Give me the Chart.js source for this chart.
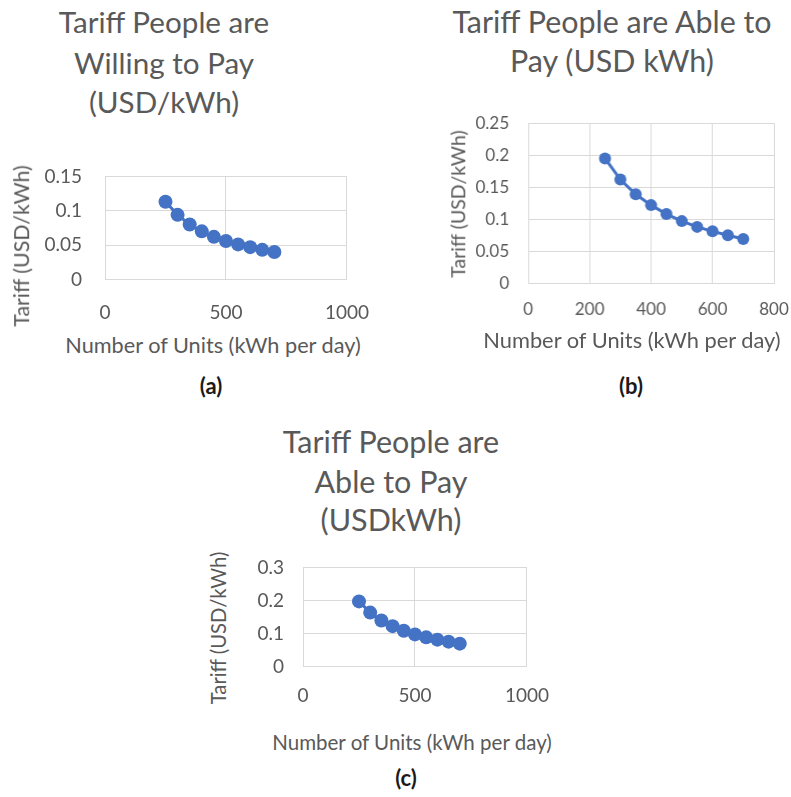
<!DOCTYPE html>
<html>
<head>
<meta charset="utf-8">
<script src="https://cdn.jsdelivr.net/npm/chart.js@4.4.1/dist/chart.umd.min.js"></script>
<style>
  html, body { margin: 0; padding: 0; background: #ffffff; }
  body { width: 791px; height: 797px; position: relative; overflow: hidden; font-family: Lato, "Open Sans", sans-serif; }
  .box { position: absolute; }
  .txt { position: absolute; white-space: nowrap; color: #595959; font-family: Lato, sans-serif; }
  .lab { position: absolute; transform: translate(-50%, -50%); color: #1a1a1a; font-weight: bold; font-size: 22px; font-family: Lato, sans-serif; }
</style>
</head>
<body>
<div class="box" id="ba" style="left:20px; top:150px; width:360px; height:180px;"><canvas id="ca"></canvas></div>
<div class="box" id="bb" style="left:450px; top:100px; width:341px; height:220px;"><canvas id="cb"></canvas></div>
<div class="box" id="bc" style="left:230px; top:545px; width:330px; height:170px;"><canvas id="cc"></canvas></div>

<div class="lab" style="left:211px; top:385px;">(a)</div>
<div class="lab" style="left:631px; top:385px;">(b)</div>
<div class="lab" style="left:406px; top:777px;">(c)</div>

<script>
// Data
const units = [250, 300, 350, 400, 450, 500, 550, 600, 650, 700];
const tariffWilling = [0.113, 0.094, 0.080, 0.070, 0.062, 0.056, 0.051, 0.047, 0.043, 0.040];
const tariffAbleB = [0.195, 0.162, 0.139, 0.122, 0.108, 0.097, 0.088, 0.081, 0.075, 0.069];
const tariffAbleC = [0.197, 0.163, 0.139, 0.122, 0.108, 0.097, 0.088, 0.081, 0.075, 0.069];

const xTicksA = [0, 500, 1000];
const yTicksA = [0, 0.05, 0.1, 0.15];
const xTicksB = [0, 200, 400, 600, 800];
const yTicksB = [0, 0.05, 0.1, 0.15, 0.2, 0.25];
const xTicksC = [0, 500, 1000];
const yTicksC = [0, 0.1, 0.2, 0.3];

const titleA = ['Tariff People are', 'Willing to Pay', '(USD/kWh)'];
const titleB = ['Tariff People are Able to', 'Pay (USD kWh)'];
const titleC = ['Tariff People are', 'Able to Pay', '(USDkWh)'];
const xTitle = 'Number of Units (kWh per day)';
const yTitle = 'Tariff (USD/kWh)';

const BLUE = '#4472c4';
const GRID = '#d9d9d9';
const TICK = '#595959';

// ---------- text helpers ----------
const mctx = document.createElement('canvas').getContext('2d');
function sizeFor(text, width, weight) {
  mctx.font = (weight || 'normal') + ' 100px Lato';
  return 100 * width / mctx.measureText(text).width;
}
function addDiv(text, css) {
  const d = document.createElement('div');
  d.className = 'txt';
  d.textContent = text;
  Object.assign(d.style, css);
  document.body.appendChild(d);
  return d;
}
// multi-line title: centre x, baselines of each line, width of first line
function title(lines, cx, baselines, width0) {
  const f = sizeFor(lines[0], width0);
  lines.forEach((ln, i) => {
    addDiv(ln, { left: cx + 'px', top: (baselines[i] - 0.987 * f) + 'px', fontSize: f + 'px',
                 lineHeight: (1.2 * f) + 'px', transform: 'translateX(-50%)' });
  });
}
function centred(text, cx, cy, width, rotate) {
  const f = sizeFor(text, width);
  addDiv(text, { left: cx + 'px', top: cy + 'px', fontSize: f + 'px', lineHeight: '1.2',
                 transform: 'translate(-50%, -50%)' + (rotate ? ' rotate(-90deg)' : '') });
}

title(titleA, 164, [33, 74, 113], 211);
title(titleB, 612, [33, 72], 321);
title(titleC, 391, [453, 493, 531], 217);

centred(xTitle, 213, 345, 297, false);
centred(yTitle, 22, 246, 162, true);
centred(xTitle, 632, 340, 299, false);
centred(yTitle, 458, 204, 148, true);
centred(xTitle, 412, 742, 281, false);
centred(yTitle, 218, 628, 153, true);

// ---------- charts ----------
function toPoints(xs, ys) { return xs.map((x, i) => ({ x: x, y: ys[i] })); }
const fmt = (v) => String(Math.round(v * 1000) / 1000);

function makeChart(id, ys, cfg) {
  return new Chart(document.getElementById(id), {
    type: 'scatter',
    data: {
      datasets: [{
        data: toPoints(units, ys),
        showLine: true,
        borderColor: BLUE,
        backgroundColor: BLUE,
        borderWidth: 3,
        pointRadius: cfg.r,
        pointHoverRadius: cfg.r,
        pointBorderWidth: 0
      }]
    },
    options: {
      responsive: true,
      maintainAspectRatio: false,
      animation: false,
      events: [],
      layout: { padding: { left: 0, right: 30, top: 26, bottom: 0 } },
      plugins: { legend: { display: false }, tooltip: { enabled: false }, title: { display: false } },
      scales: {
        x: {
          type: 'linear',
          min: cfg.xTicks[0], max: cfg.xTicks[cfg.xTicks.length - 1],
          afterBuildTicks: (s) => { s.ticks = cfg.xTicks.map(v => ({ value: v })); },
          afterFit: (s) => { s.height = 50; },
          grid: { color: GRID, lineWidth: 1, drawTicks: false },
          border: { color: GRID },
          ticks: { color: TICK, font: { family: 'Lato', size: cfg.fs }, padding: cfg.xpad, maxRotation: 0, autoSkip: false, callback: fmt }
        },
        y: {
          type: 'linear',
          min: cfg.yTicks[0], max: cfg.yTicks[cfg.yTicks.length - 1],
          afterBuildTicks: (s) => { s.ticks = cfg.yTicks.map(v => ({ value: v })); },
          afterFit: (s) => { s.width = 70; },
          grid: { color: GRID, lineWidth: 1, drawTicks: false },
          border: { color: GRID },
          ticks: { color: TICK, font: { family: 'Lato', size: cfg.fs }, padding: cfg.ypad, autoSkip: false, callback: fmt }
        }
      }
    }
  });
}

// move/resize the container so the plot area sits where it does in the reference
function place(chart, boxId, t) {
  const box = document.getElementById(boxId);
  for (let k = 0; k < 3; k++) {
    const a = chart.chartArea;
    const L = parseFloat(box.style.left), T = parseFloat(box.style.top);
    const W = parseFloat(box.style.width), H = parseFloat(box.style.height);
    const dx = t.left - (L + a.left), dy = t.top - (T + a.top);
    const nW = W + (t.right - (L + a.right)) - dx;
    const nH = H + (t.bottom - (T + a.bottom)) - dy;
    box.style.left = (L + dx) + 'px'; box.style.top = (T + dy) + 'px';
    box.style.width = nW + 'px'; box.style.height = nH + 'px';
    chart.resize();
  }
}

const chA = makeChart('ca', tariffWilling, { r: 7, xTicks: xTicksA, yTicks: yTicksA, fs: 19, xpad: 22, ypad: 23 });
const chB = makeChart('cb', tariffAbleB, { r: 6, xTicks: xTicksB, yTicks: yTicksB, fs: 17, xpad: 16, ypad: 19 });
const chC = makeChart('cc', tariffAbleC, { r: 7, xTicks: xTicksC, yTicks: yTicksC, fs: 19, xpad: 18, ypad: 19 });

place(chA, 'ba', { left: 105, right: 347, top: 176, bottom: 279 });
place(chB, 'bb', { left: 528, right: 773, top: 123, bottom: 283 });
place(chC, 'bc', { left: 303, right: 527, top: 567, bottom: 666 });
</script>
</body>
</html>
